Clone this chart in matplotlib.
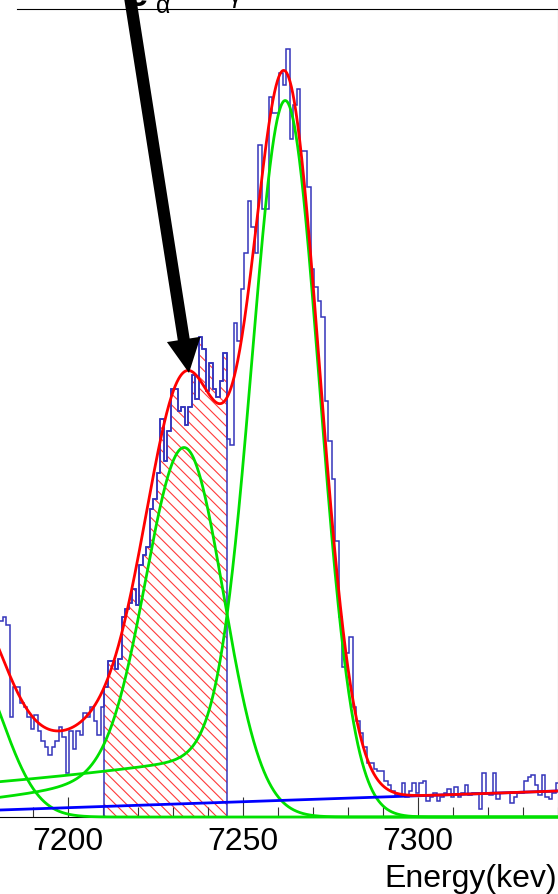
import math

import numpy as np
import matplotlib
matplotlib.use('Agg')
import matplotlib.pyplot as plt
from matplotlib.patches import FancyArrow
from matplotlib.ticker import MultipleLocator

plt.rcParams['font.family'] = ['Liberation Sans', 'DejaVu Sans']
plt.rcParams['hatch.linewidth'] = 0.8

# ── Spectrum: 1 keV bins centred on integer energies ──────────────────────
ENERGY = np.arange(7180, 7341)
COUNTS = [
     96,  98, 100,  96,  50,  65,  65,  57,  55,  50,
     44,  51,  43,  38,  35,  31,  35,  38,  45,  40,
     22,  43,  34,  43,  41,  52,  50,  55,  48,  41,
     55,  65,  78,  78,  74,  79, 100, 104, 107, 114,
    106, 126, 131, 135, 154, 159, 172, 199, 178, 193,
    214, 214, 203, 205, 196, 205, 221, 209, 240, 234,
    213, 227, 214, 210, 218, 232, 189, 186, 247, 238,
    264, 282, 308, 295, 282, 336, 304, 304, 360, 352,
    352, 372, 366, 384, 339, 356, 364, 333, 333, 315,
    274, 265, 258, 250, 208, 188, 169, 138, 100,  75,
     82,  90,  55,  48,  42,  35,  27,  27,  24,  23,
     23,  18,  16,  13,  11,  11,  17,  10,  13,  17,
     12,  17,  18,   8,  10,  12,   8,  10,  12,  14,
     10,  15,  10,  12,  16,  11,  12,  12,   4,  22,
     12,  11,  22,   9,  12,  12,  12,   7,  10,  12,
     12,  18,  20,  21,  16,  11,  21,  10,   9,  12,
     17,
]

# integration window (hatched)
WINDOW_LO = 7211
WINDOW_HI = 7245

# ── Fit result: three peaks (Gaussian + low-energy tail) + linear bkg ─────
PEAK_MU = [7170.9, 7233.8, 7262.5]
PEAK_AMP = [81.0, 168.0, 340.0]
PEAK_SIGMA = [10.3, 11.0, 9.6]
TAIL_AMP = [0.0, 33.0, 36.0]
TAIL_TAU = [1.0, 44.0, 115.0]
BKG_P0 = 3.46       # counts at 7180 keV
BKG_P1 = 0.0596     # counts / keV

X_RANGE = (7180, 7340)
Y_MAX = 403.85

HIST_BLUE = '#3434bb'
FIT_RED = '#ff0000'
COMP_GREEN = '#00e000'
BKG_BLUE = '#0000ff'

_erfc = np.vectorize(math.erfc)


def peak(e, i):
    d = e - PEAK_MU[i]
    g = PEAK_AMP[i] * np.exp(-0.5 * (d / PEAK_SIGMA[i]) ** 2)
    tail = (TAIL_AMP[i] * np.exp(d / TAIL_TAU[i])
            * 0.5 * _erfc(d / (math.sqrt(2) * PEAK_SIGMA[i])))
    return g + tail


def background(e):
    return BKG_P0 + BKG_P1 * (e - X_RANGE[0])


counts = np.asarray(COUNTS, dtype=float)
edges = np.append(ENERGY - 0.5, ENERGY[-1] + 0.5)
in_win = (ENERGY >= WINDOW_LO) & (ENERGY <= WINDOW_HI)
win_idx = np.where(in_win)[0]
win_edges = edges[win_idx[0]:win_idx[-1] + 2]

fig = plt.figure(figsize=(5.58, 8.94), dpi=100)
ax = fig.add_axes([-2.3 / 558, 77 / 894, 560 / 558, 807.7 / 894])

# hatched integration window
ax.stairs(counts[in_win], win_edges, baseline=0, fill=True,
          facecolor='none', edgecolor='#ff3a3a', hatch='\\\\\\',
          linewidth=0, zorder=1)

ax.stairs(counts, edges, baseline=None, color=HIST_BLUE, lw=1.1, zorder=2)
ax.stairs(counts[in_win], win_edges, baseline=0, color=HIST_BLUE, lw=1.1,
          zorder=2)

e = np.linspace(X_RANGE[0], X_RANGE[1], 1601)
comps = [peak(e, i) for i in range(len(PEAK_MU))]
bkg = background(e)
total = sum(comps) + bkg

for c in comps:
    ax.plot(e, c, color=COMP_GREEN, lw=2, zorder=3, clip_on=False)
ax.plot(e, bkg, color=BKG_BLUE, lw=2, zorder=4)
ax.plot(e, total, color=FIT_RED, lw=2, zorder=5)

ax.set_xlim(*X_RANGE)
ax.set_ylim(0, Y_MAX)
ax.set_yticks([])
ax.set_xticks([7200, 7250, 7300])
ax.xaxis.set_minor_locator(MultipleLocator(10))
ax.tick_params(axis='x', which='major', direction='in', length=14.4,
               width=0.8, color='#333333', pad=7, labelsize=23)
ax.tick_params(axis='x', which='minor', direction='in', length=7.2,
               width=0.8, color='#333333')
ax.spines['left'].set_visible(False)
ax.spines['top'].set_visible(False)
ax.spines['right'].set_color('#909090')
ax.spines['right'].set_linewidth(0.8)
ax.spines['bottom'].set_linewidth(0.8)

# ── annotations in pixel space ───────────────────────────────────────────
ov = fig.add_axes([0, 0, 1, 1], zorder=10)
ov.set_xlim(0, 558)
ov.set_ylim(894, 0)
ov.axis('off')

ov.plot([17.3, 558], [9.3, 9.3], color='black', lw=0.8)
ov.add_patch(FancyArrow(127.3, -20, 189 - 127.3, 373 + 20, width=12,
                        head_width=34, head_length=34,
                        length_includes_head=True, color='black', lw=0))
ov.text(138, 6, 'e', fontsize=26, fontweight='bold', ha='center',
        va='baseline')
ov.text(163, 13, 'α', fontsize=18, ha='center', va='baseline')
ov.text(235, 3.5, 'γ', fontsize=18, ha='center', va='baseline')
ov.text(557, 886.6, 'Energy(kev)', fontsize=23, ha='right', va='baseline')

fig.savefig('out.png', dpi=100)
